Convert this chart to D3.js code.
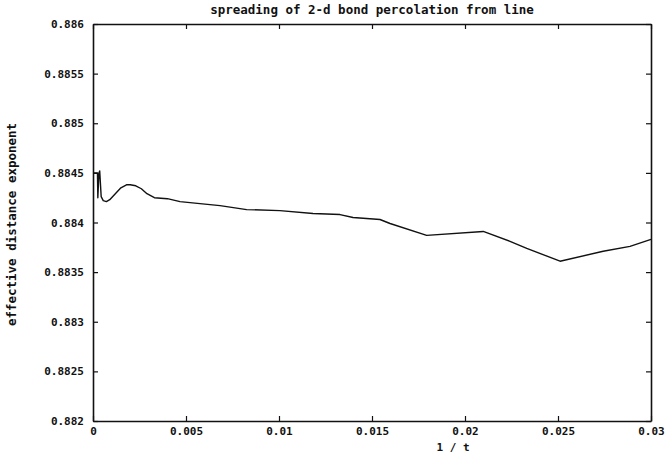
<!DOCTYPE html>
<html>
<head>
<meta charset="utf-8">
<script src="https://cdnjs.cloudflare.com/ajax/libs/d3/7.8.5/d3.min.js"></script>
<style>
  body { margin: 0; background: #fff; }
  text { font-family: "DejaVu Sans Mono", "Liberation Mono", monospace; font-weight: bold; fill: #111; }
</style>
</head>
<body>
<div id="chart"></div>
<script>
    // values
    var invT = [0, 0.00024, 0.00026, 0.00032, 0.00036, 0.00044, 0.00055, 0.00072, 0.00090, 0.00120,
        0.00150, 0.00180, 0.00200, 0.00230, 0.00260, 0.00290, 0.00330, 0.00400, 0.00468, 0.00575,
        0.00683, 0.00826, 0.01005, 0.01183, 0.01328, 0.01398, 0.01543, 0.01597, 0.01794, 0.02098,
        0.02242, 0.02332, 0.02511, 0.02743, 0.02887, 0.03];
    var exponent = [0.88450, 0.88450, 0.88425, 0.88450, 0.88452, 0.88426, 0.88422, 0.88421, 0.88423, 0.88429,
        0.88435, 0.88438, 0.88438, 0.88437, 0.88434, 0.88429, 0.88425, 0.88424, 0.88421, 0.88419,
        0.88417, 0.88413, 0.88412, 0.88409, 0.88408, 0.88405, 0.88403, 0.88399, 0.88387, 0.88391,
        0.88381, 0.88374, 0.88361, 0.88371, 0.88376, 0.88383];

    var xTicks = [0, 0.005, 0.01, 0.015, 0.02, 0.025, 0.03];
    var xTickLabels = ["0", "0.005", "0.01", "0.015", "0.02", "0.025", "0.03"];
    var yTicks = [0.882, 0.8825, 0.883, 0.8835, 0.884, 0.8845, 0.885, 0.8855, 0.886];
    var yTickLabels = ["0.882", "0.8825", "0.883", "0.8835", "0.884", "0.8845", "0.885", "0.8855", "0.886"];

    var title = "spreading of 2-d bond percolation from line";
    var xTitle = "1 / t";
    var yTitle = "effective distance exponent";

    var W = 665, H = 456;
    // plot box (can't call these top/left globally, window.top is taken)
    var boxL = 93, boxR = 651, boxT = 24, boxB = 421;

    var svg = d3.select("#chart").append("svg")
        .attr("width", W)
        .attr("height", H);

    var x = d3.scaleLinear().domain([0, 0.03]).range([boxL, boxR]);
    var y = d3.scaleLinear().domain([0.882, 0.886]).range([boxB, boxT]);

    // bottom + top axes, ticks pointing in
    var xAxis = d3.axisBottom(x).tickValues(xTicks)
        .tickFormat(function(d, i) { return xTickLabels[i]; })
        .tickSizeInner(-5).tickSizeOuter(0).tickPadding(6);
    var gx = svg.append("g").attr("transform", "translate(0," + boxB + ")").call(xAxis);

    var xTop = d3.axisTop(x).tickValues(xTicks).tickFormat("").tickSizeInner(-5).tickSizeOuter(0);
    var gxt = svg.append("g").attr("transform", "translate(0," + boxT + ")").call(xTop);

    var yAxis = d3.axisLeft(y).tickValues(yTicks)
        .tickFormat(function(d, i) { return yTickLabels[i]; })
        .tickSizeInner(-5).tickSizeOuter(0).tickPadding(9);
    var gy = svg.append("g").attr("transform", "translate(" + boxL + ",0)").call(yAxis);

    var yRight = d3.axisRight(y).tickValues(yTicks).tickFormat("").tickSizeInner(-5).tickSizeOuter(0);
    var gyr = svg.append("g").attr("transform", "translate(" + boxR + ",0)").call(yRight);

    [gx, gxt, gy, gyr].forEach(function(g) {
        g.select(".domain").attr("stroke", "#111").attr("stroke-width", 1.6);
        g.selectAll(".tick line").attr("stroke", "#111").attr("stroke-width", 1.2);
        g.selectAll("text").attr("font-family", null).attr("font-size", 11).attr("fill", "#111");
    });

    // the curve
    var pts = invT.map(function(v, i) { return [v, exponent[i]]; });
    var line = d3.line()
        .x(function(d) { return x(d[0]); })
        .y(function(d) { return y(d[1]); });

    svg.append("path")
        .datum(pts)
        .attr("d", line)
        .attr("fill", "none")
        .attr("stroke", "#111")
        .attr("stroke-width", 1.4)
        .attr("stroke-linejoin", "round");

    svg.append("text")
        .attr("x", (boxL + boxR) / 2)
        .attr("y", 14)
        .attr("text-anchor", "middle")
        .attr("font-size", 12.5)
        .text(title);

    svg.append("text")
        .attr("x", 453)
        .attr("y", 451)
        .attr("text-anchor", "middle")
        .attr("font-size", 11)
        .text(xTitle);

    svg.append("text")
        .attr("transform", "translate(16," + ((boxT + boxB) / 2 + 2) + ") rotate(-90)")
        .attr("text-anchor", "middle")
        .attr("font-size", 12.5)
        .text(yTitle);
</script>
</body>
</html>
